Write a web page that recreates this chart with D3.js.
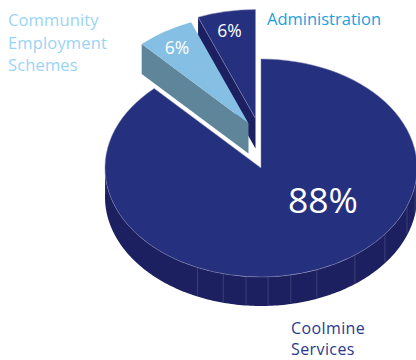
<!DOCTYPE html>
<html>
<head>
<meta charset="utf-8">
<script src="https://cdn.jsdelivr.net/npm/d3@7"></script>
<style>
html,body{margin:0;padding:0;background:#fff}
svg{display:block}
text{font-family:"Open Sans",sans-serif}
</style>
</head>
<body>
<svg id="chart" width="416" height="360"></svg>
<script>
// Budget split, drawn clockwise from twelve o'clock
const categories = ["Coolmine Services", "Community Employment Schemes", "Administration"];
const shares = [88, 6, 6];
const shareLabels = ["88%", "6%", "6%"];
const faceColors = ["#25307f", "#85bfe3", "#25307f"];
const wallColors = ["#1c2060", "#5e8599", "#1c2060"];
// Outward shift of each wedge from the pie centre
const shiftX = [0, -12.5, -5.5];
const shiftY = [0, -44.5, -49.5];
// Seams on the outer wall, clockwise degrees from the top
const seamAngles = [99, 110.6, 127.4, 143, 159, 169, 177.4, 185.5, 194, 204];

const cx = 261, cy = 168, rx = 156, ry = 109, depth = 29;
const svg = d3.select("#chart");

const slices = d3.pie().sort(null).value(d => d)(shares);
const arc = d3.arc().innerRadius(0).outerRadius(rx);
const toXY = (a, r = 1) => [rx * r * Math.sin(a), -ry * r * Math.cos(a)];

const line = d3.line();

// Outer wall of the large wedge: visible front half of the rim
const deg = d3.scaleLinear().domain([0, 180]).range([0, Math.PI]);
const main = svg.append("g").attr("transform", `translate(${cx},${cy})`);
const front = d3.range(88, 273, 1).map(deg).filter(a => a <= slices[0].endAngle);
const rimTop = front.map(a => toXY(a));
const rimBottom = front.map(a => { const p = toXY(a); return [p[0], p[1] + depth]; }).reverse();
main.append("path").attr("d", line(rimTop.concat(rimBottom)) + "Z").attr("fill", wallColors[0]);

main.selectAll("line.seam").data(seamAngles).join("line").attr("class", "seam")
  .each(function (d) {
    const p = toXY(deg(d));
    d3.select(this).attr("x1", p[0]).attr("x2", p[0]).attr("y1", p[1]).attr("y2", p[1] + depth - 1);
  })
  .attr("stroke", "#5a5e8e").attr("stroke-width", 0.5);

main.append("path")
  .attr("d", arc(slices[0]))
  .attr("transform", `scale(1,${ry / rx})`)
  .attr("fill", faceColors[0])
  .attr("stroke", "#7c80ab").attr("stroke-width", 0.5)
  .attr("vector-effect", "non-scaling-stroke");

// Pulled-out wedges, the rear one first so its neighbour overlaps it
[2, 1].forEach(i => {
  const s = slices[i];
  const g = svg.append("g").attr("transform", `translate(${cx + shiftX[i]},${cy + shiftY[i]})`);
  const p = toXY(s.startAngle);
  g.append("path")
    .attr("d", line([[0, 0], p, [p[0], p[1] + depth + 1], [0, depth + 1]]) + "Z")
    .attr("fill", wallColors[i]);
  const face = g.append("path")
    .attr("d", arc(s))
    .attr("transform", `scale(1,${ry / rx})`)
    .attr("fill", faceColors[i]);
  if (i === 2) face.attr("stroke", "#8f93b8").attr("stroke-width", 0.5).attr("vector-effect", "non-scaling-stroke");
});

// Percentages on the wedge faces
const shareText = [
  { i: 0, x: 323, y: 213, size: 35.5 },
  { i: 1, x: 177, y: 54, size: 17.5 },
  { i: 2, x: 229.5, y: 37, size: 17.5 }
];
svg.selectAll("text.share").data(shareText).join("text").attr("class", "share")
  .attr("x", d => d.x).attr("y", d => d.y)
  .attr("text-anchor", "middle").attr("font-size", d => d.size).attr("fill", "#fff")
  .text(d => shareLabels[d.i]);

// Category names
const nameText = [
  { lines: ["Community", "Employment", "Schemes"], x: 8, y: 26, step: 22.5, size: 16.5, spacing: 0.15, color: "#9ad4f5" },
  { lines: ["Administration"], x: 267, y: 25, step: 0, size: 16.5, spacing: 0, color: "#1a9fe0" },
  { lines: ["Coolmine", "Services"], x: 291, y: 333.5, step: 21.8, size: 16, spacing: 0.4, color: "#2b3990" }
];
nameText.forEach(n => {
  svg.append("g").selectAll("text").data(n.lines).join("text")
    .attr("x", n.x).attr("y", (d, j) => n.y + j * n.step)
    .attr("font-size", n.size).attr("letter-spacing", n.spacing).attr("fill", n.color)
    .text(d => d);
});
</script>
</body>
</html>
